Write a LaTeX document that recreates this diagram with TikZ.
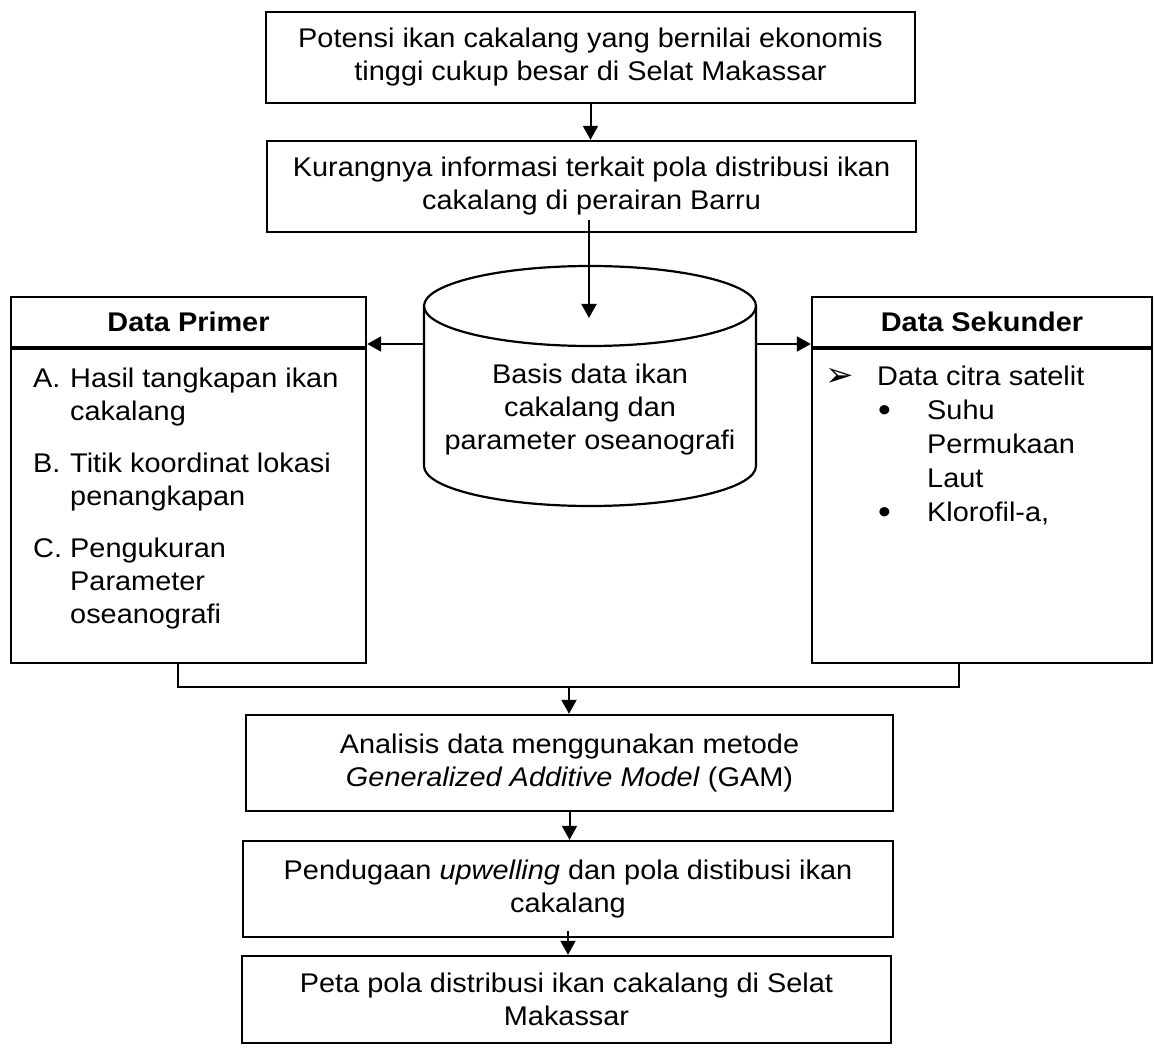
\documentclass[tikz,border=0pt]{standalone}
\usepackage{fontspec}
\setmainfont{Liberation Sans}[FakeStretch=1.07]
\newfontfamily\symfont{DejaVu Sans}
\usetikzlibrary{arrows.meta}
\newcommand{\bigbul}{\raisebox{-1.5pt}{\fontsize{34pt}{34pt}\selectfont•}}
\begin{document}
\begin{tikzpicture}[x=1pt,y=-1pt,
  txt/.style={font=\fontsize{27pt}{33pt}\selectfont},
  hd/.style={font=\fontsize{27pt}{33pt}\selectfont\bfseries},
  box/.style={draw, line width=2.4pt, align=center, inner sep=0pt, txt},
  conn/.style={line width=2pt},
  arr/.style={conn, -{Triangle[width=15pt,length=14pt]}},
]
\useasboundingbox[fill=white] (0,0) rectangle (1154,1048);

% top boxes
\node[box, minimum width=649pt, minimum height=91pt] (b1) at (590.5,57.5)
  {Potensi ikan cakalang yang bernilai ekonomis\\tinggi cukup besar di Selat Makassar};
\node[box, minimum width=649pt, minimum height=91pt] (b2) at (591.5,186.5)
  {Kurangnya informasi terkait pola distribusi ikan\\cakalang di perairan Barru};
\draw[arr] (b1.south) -- (b1.south |- b2.north);

% cylinder
\coordinate (cylT) at (590,306);
\coordinate (cylIn) at (589,318);
\coordinate (cylW) at (424,344);
\coordinate (cylE) at (756,344);
\draw[line width=2.2pt, fill=white] (424,306) -- (424,466)
  arc[start angle=180, end angle=360, x radius=166pt, y radius=40pt] -- (756,306);
\draw[line width=2.2pt] (cylT) ellipse [x radius=166pt, y radius=40pt];
\begin{scope}
  \clip (424,350) rectangle (756,456);
  \node[txt, align=center, inner sep=0pt] (cyl) at (590,410)
    {Basis data ikan\\cakalang dan\\parameter oseanografi};
\end{scope}
\path (b2.south -| cylIn) ++(0,-13) coordinate (b2out);
\draw[arr] (b2out) -- (cylIn);

% Data Primer
\node[box, hd, minimum width=355pt, minimum height=50pt] (ph) at (188.5,322) {Data Primer};
\node[box, minimum width=355pt, minimum height=316pt] (pb) at (188.5,505) {};
\draw[line width=3.4pt] (ph.south west) -- (ph.south east);
\node[txt, anchor=base west, inner sep=0pt] (plist) at (33,388)
  {\begin{tabular}[t]{@{}l@{}l@{}}
   \makebox[37pt][l]{A.} & Hasil tangkapan ikan\\
                         & cakalang\\[19pt]
   \makebox[37pt][l]{B.} & Titik koordinat lokasi\\
                         & penangkapan\\[19pt]
   \makebox[37pt][l]{C.} & Pengukuran\\
                         & Parameter\\
                         & oseanografi
   \end{tabular}};

% Data Sekunder
\node[box, hd, minimum width=340pt, minimum height=50pt] (sh) at (982,322) {Data Sekunder};
\node[box, minimum width=340pt, minimum height=316pt] (sb) at (982,505) {};
\draw[line width=3.4pt] (sh.south west) -- (sh.south east);
\node[txt, anchor=base west, inner sep=0pt] (slist) at (825,386)
  {\fontsize{27pt}{34pt}\selectfont
   \begin{tabular}[t]{@{}l@{}l@{}l@{}}
   \makebox[46pt][l]{\raisebox{-1pt}{\symfont\fontsize{34pt}{34pt}\selectfont ➢}} & \multicolumn{2}{l@{}}{Data citra satelit}\\
   & \makebox[56pt][l]{\hspace{7pt}\bigbul} & Suhu\\
   & & Permukaan\\
   & & Laut\\
   & \makebox[56pt][l]{\hspace{7pt}\bigbul} & Klorofil-a,
   \end{tabular}};

\draw[arr] (cylW) -- (cylW -| ph.east);
\draw[arr] (cylE) -- (cylE -| sh.west);

% bottom chain
\coordinate (jn) at (569,687);
\node[box, minimum width=647pt, minimum height=96pt] (gam) at (569.5,763)
  {Analisis data menggunakan metode\\\textit{Generalized Additive Model} (GAM)};
\node[box, minimum width=650pt, minimum height=96pt] (pend) at (568,889)
  {Pendugaan \textit{upwelling} dan pola distibusi ikan\\cakalang};
\node[box, minimum width=649pt, minimum height=87pt] (peta) at (566.5,999.5)
  {Peta pola distribusi ikan cakalang di Selat\\Makassar};

\draw[conn] ([xshift=-10.5pt]pb.south) |- (jn) -| ([xshift=-23pt]sb.south);
\draw[arr] (jn) -- (jn |- gam.north);
\draw[arr] (gam.south) -- (gam.south |- pend.north);
\draw[arr] ([yshift=7pt]pend.south) -- (pend.south |- peta.north);
\end{tikzpicture}
\end{document}
